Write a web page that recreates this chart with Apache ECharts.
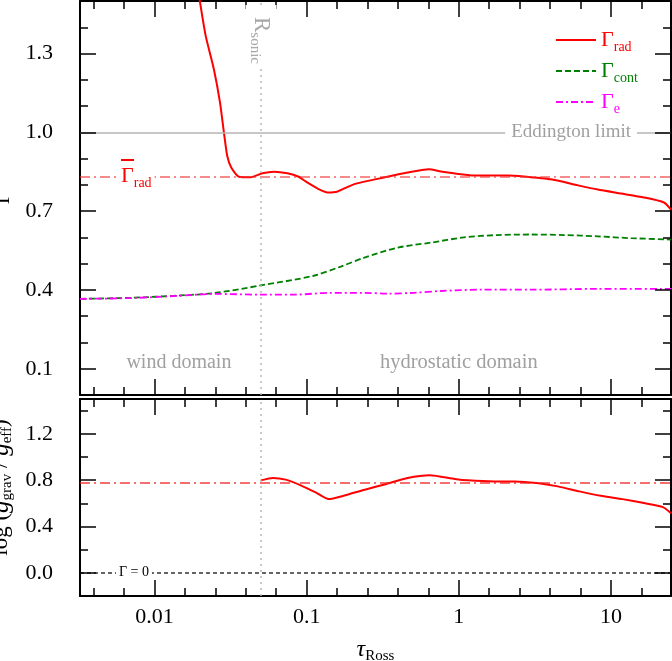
<!DOCTYPE html>
<html>
<head>
<meta charset="utf-8">
<title>Gamma vs tau_Ross</title>
<script src="https://cdn.jsdelivr.net/npm/echarts@6.0.0/dist/echarts.min.js"></script>
<style>
    html, body { margin: 0; padding: 0; background: #fff; }
    #main { width: 672px; height: 661px; }
</style>
</head>
<body>
<div id="main"></div>
<script type="text/javascript">
    // x values are log10(tau_Ross)
    var logTauRad = [-1.705, -1.664, -1.610, -1.570, -1.544, -1.522, -1.495, -1.445, -1.368, -1.291,
        -1.215, -1.127, -1.053, -1.007, -0.928, -0.862, -0.796, -0.691, -0.493, -0.336,
        -0.197, -0.118, -0.033, 0.099, 0.322, 0.428, 0.605, 0.783, 0.914, 1.066,
        1.217, 1.349, 1.395];
    var gammaRad = [1.51, 1.368, 1.240, 1.115, 1.000, 0.910, 0.865, 0.831, 0.829, 0.844,
        0.850, 0.844, 0.831, 0.813, 0.786, 0.771, 0.775, 0.802, 0.828, 0.847,
        0.859, 0.851, 0.844, 0.836, 0.836, 0.832, 0.821, 0.798, 0.782, 0.767,
        0.752, 0.733, 0.706];

    var logTauCont = [-2.49, -2.158, -1.829, -1.61, -1.303, -0.954, -0.776, -0.625, -0.401, -0.184,
        0.033, 0.257, 0.474, 0.691, 0.914, 1.132, 1.395];
    var gammaCont = [0.366, 0.370, 0.379, 0.388, 0.417, 0.454, 0.489, 0.522, 0.561, 0.580,
        0.600, 0.609, 0.611, 0.609, 0.604, 0.597, 0.592];

    var logTauE = [-2.49, -2.158, -1.829, -1.61, -1.303, -1.086, -0.842, -0.625, -0.467, -0.296,
        -0.118, 0.145, 0.474, 0.914, 1.395];
    var gammaE = [0.366, 0.369, 0.378, 0.385, 0.382, 0.382, 0.389, 0.389, 0.386, 0.389,
        0.396, 0.401, 0.401, 0.404, 0.404];

    var logTauG = [-1.301, -1.222, -1.138, -1.039, -0.941, -0.856, -0.757, -0.618, -0.475, -0.336,
        -0.19, -0.026, 0.059, 0.230, 0.368, 0.513, 0.651, 0.793, 0.934, 1.076,
        1.217, 1.342, 1.395];
    var logGravEff = [0.798, 0.819, 0.804, 0.755, 0.694, 0.636, 0.665, 0.717, 0.767, 0.819,
        0.842, 0.810, 0.798, 0.789, 0.789, 0.775, 0.746, 0.703, 0.665, 0.636,
        0.602, 0.567, 0.515];

    var eddingtonLimit = 1.0;
    var gammaRadMean = 0.83;
    var logGMean = 0.78;
    var logTauSonic = -1.30;

    // tick positions
    var decadeTicks = [-2, -1, 0, 1];
    var tauMinorTicks = [-2.4, -2.2, -1.8, -1.6, -1.4, -1.2, -0.8, -0.6, -0.4, -0.2,
        0.2, 0.4, 0.6, 0.8, 1.2];
    var gammaTicks = [0.1, 0.4, 0.7, 1.0, 1.3];
    var gammaMinorTicks = [0.2, 0.3, 0.5, 0.6, 0.8, 0.9, 1.1, 1.2, 1.4];
    var logGTicks = [0.0, 0.4, 0.8, 1.2];
    var logGMinorTicks = [0.2, 0.6, 1.0, 1.4];

    var serif = 'Liberation Serif';
    var tauMin = -2.49, tauMax = 1.395;
    var black = { color: '#000', width: 1.5 };

    var plotLeft = 80, plotRight = 671;
    var panels = [
        { top: 1, height: 394, min: 0, max: 1.5, step: 0.1, ticks: gammaTicks, minor: gammaMinorTicks },
        { top: 399, height: 197, min: -0.2, max: 1.5, step: 0.2, ticks: logGTicks, minor: logGMinorTicks }
    ];

    function zip(xs, ys) {
        return xs.map(function (x, i) { return [x, ys[i]]; });
    }

    function frameX(gi, pos, withLabels) {
        var ax = {
            type: 'value', gridIndex: gi, position: pos,
            min: tauMin, max: tauMax,
            splitNumber: 4, minInterval: 1, maxInterval: 1,
            axisLine: { show: true, onZero: false, lineStyle: { color: '#000', width: 2 } },
            axisTick: { show: false },
            splitLine: { show: false },
            axisLabel: {
                show: withLabels, showMinLabel: false, showMaxLabel: false,
                margin: 10, fontFamily: serif, fontSize: 22, color: '#000',
                formatter: function (v) { return String(+Math.pow(10, v).toPrecision(1)); }
            }
        };
        if (withLabels) {
            ax.name = '{t|τ}{s|Ross}';
            ax.nameLocation = 'middle';
            ax.nameGap = 39;
            ax.nameTextStyle = {
                fontFamily: serif, color: '#000',
                rich: {
                    t: { fontFamily: serif, fontSize: 24, fontStyle: 'italic', color: '#000' },
                    s: { fontFamily: serif, fontSize: 15, color: '#000', padding: [14, 0, 0, 0] }
                }
            };
        }
        return ax;
    }

    function frameY(gi, p, pos, withLabels) {
        return {
            type: 'value', gridIndex: gi, position: pos, min: p.min, max: p.max, interval: p.step,
            axisLine: { show: true, onZero: false, lineStyle: { color: '#000', width: 2 } },
            axisTick: { show: false },
            splitLine: { show: false },
            axisLabel: {
                show: withLabels, customValues: p.ticks, margin: 27,
                fontFamily: serif, fontSize: 22, color: '#000',
                formatter: function (v) { return v.toFixed(1); }
            }
        };
    }

    var grids = [], xAxes = [], yAxes = [];
    panels.forEach(function (p, gi) {
        grids.push({ left: plotLeft, right: 672 - plotRight, top: p.top, height: p.height, outerBoundsMode: 'none' });
        xAxes.push(frameX(gi, 'bottom', gi === 1), frameX(gi, 'top', false));
        yAxes.push(frameY(gi, p, 'left', true), frameY(gi, p, 'right', false));
    });

    yAxes[0].name = 'Γ';
    yAxes[0].nameLocation = 'middle';
    yAxes[0].nameGap = 58;
    yAxes[0].nameTextStyle = { fontFamily: serif, fontSize: 22, color: '#000' };

    yAxes[2].name = 'log ({i|g}{s|grav} / {i|g}{s|eff})';
    yAxes[2].nameLocation = 'middle';
    yAxes[2].nameGap = 51;
    yAxes[2].nameTextStyle = {
        fontFamily: serif, fontSize: 23, color: '#000', padding: [0, 0, 0, 20],
        rich: {
            i: { fontFamily: serif, fontSize: 25, fontStyle: 'italic', color: '#000' },
            s: { fontFamily: serif, fontSize: 15, color: '#000', padding: [12, 0, 0, 0] }
        }
    };

    // inward tick marks as short segments on every edge of a panel
    function tickSegments(p) {
        var segs = [];
        var dy = function (px) { return px / p.height * (p.max - p.min); };
        var dx = function (px) { return px / (plotRight - plotLeft) * (tauMax - tauMin); };
        function xTicks(vals, len) {
            vals.forEach(function (v) {
                segs.push([{ coord: [v, p.max] }, { coord: [v, p.max - dy(len)] }]);
                segs.push([{ coord: [v, p.min] }, { coord: [v, p.min + dy(len)] }]);
            });
        }
        function yTicks(vals, len) {
            vals.forEach(function (v) {
                segs.push([{ coord: [tauMin, v] }, { coord: [tauMin + dx(len), v] }]);
                segs.push([{ coord: [tauMax, v] }, { coord: [tauMax - dx(len), v] }]);
            });
        }
        xTicks(decadeTicks, 16);
        xTicks(tauMinorTicks, 8);
        yTicks(p.ticks, 16);
        yTicks(p.minor, 8);
        return segs;
    }

    function tickSeries(pi) {
        return {
            name: 'ticks' + pi, type: 'line', xAxisIndex: pi * 2, yAxisIndex: pi * 2,
            data: [], z: 6,
            markLine: {
                silent: true, symbol: 'none', animation: false,
                lineStyle: { color: '#000', width: 1.5, type: 'solid' },
                label: { show: false },
                emphasis: { disabled: true },
                data: tickSegments(panels[pi])
            }
        };
    }

    var subRich = {
        g: { fontFamily: serif, fontSize: 22 },
        s: { fontFamily: serif, fontSize: 14, padding: [14, 0, 0, 0] }
    };

    var sonicLine = {
        xAxis: logTauSonic,
        lineStyle: { color: '#b8b8b8', width: 1.5, type: [2, 4] },
        label: { show: false }
    };

    var chart = echarts.init(document.getElementById('main'));
    chart.setOption({
        animation: false,
        backgroundColor: '#fff',
        grid: grids,
        xAxis: xAxes,
        yAxis: yAxes,
        legend: {
            orient: 'vertical', left: 550, top: 24,
            itemWidth: 40, itemHeight: 14, itemGap: 6,
            selectedMode: false,
            itemStyle: { opacity: 0 },
            formatter: function (name) { return '{g|Γ}{s|' + name + '}'; },
            textStyle: { fontFamily: serif, rich: subRich },
            data: [
                { name: 'rad', textStyle: { color: '#ff0000' } },
                { name: 'cont', textStyle: { color: '#008000' } },
                { name: 'e', textStyle: { color: '#ff00ff' } }
            ]
        },
        series: [{
            name: 'rad', type: 'line', xAxisIndex: 0, yAxisIndex: 0,
            symbol: 'none', smooth: 0.2, z: 4,
            lineStyle: { color: '#ff0000', width: 2 },
            itemStyle: { color: '#ff0000' },
            data: zip(logTauRad, gammaRad),
            markLine: {
                silent: true, symbol: 'none',
                data: [{
                    yAxis: eddingtonLimit,
                    lineStyle: { color: '#b4b4b4', width: 1.5, type: 'solid' },
                    label: {
                        show: true, position: 'insideEnd', distance: 34,
                        formatter: 'Eddington limit', color: '#a0a0a0',
                        fontFamily: serif, fontSize: 19,
                        backgroundColor: '#fff', padding: [0, 6]
                    }
                }, {
                    yAxis: gammaRadMean,
                    lineStyle: { color: 'rgba(240,50,50,0.75)', width: 1.5, type: [10, 4, 2, 4] },
                    label: {
                        show: true, position: 'insideStart', distance: 38,
                        formatter: '{bar|}\n{g|Γ}{s|rad}', color: '#ff0000',
                        backgroundColor: '#fff', padding: [0, 3, 6, 3],
                        rich: {
                            bar: { width: 13, height: 2, lineHeight: 4, backgroundColor: '#ff0000' },
                            g: subRich.g,
                            s: subRich.s
                        }
                    }
                }, sonicLine]
            }
        }, {
            name: 'cont', type: 'line', xAxisIndex: 0, yAxisIndex: 0,
            symbol: 'none', smooth: 0.3, z: 3,
            lineStyle: { color: '#008000', width: 1.8, type: [6, 3] },
            itemStyle: { color: '#008000' },
            data: zip(logTauCont, gammaCont)
        }, {
            name: 'e', type: 'line', xAxisIndex: 0, yAxisIndex: 0,
            symbol: 'none', smooth: 0.3, z: 3,
            lineStyle: { color: '#ff00ff', width: 1.8, type: [7, 3, 2, 3] },
            itemStyle: { color: '#ff00ff' },
            data: zip(logTauE, gammaE)
        }, {
            name: 'logg', type: 'line', xAxisIndex: 2, yAxisIndex: 2,
            symbol: 'none', smooth: 0.2, z: 4,
            lineStyle: { color: '#ff0000', width: 2 },
            itemStyle: { color: '#ff0000' },
            data: zip(logTauG, logGravEff),
            markLine: {
                silent: true, symbol: 'none',
                data: [{
                    yAxis: logGMean,
                    lineStyle: { color: 'rgba(240,30,30,0.85)', width: 1.5, type: [10, 4, 2, 4] },
                    label: { show: false }
                }, {
                    yAxis: 0,
                    lineStyle: { color: '#333', width: 1.5, type: [4, 3] },
                    label: {
                        show: true, position: 'insideStart', distance: 36,
                        formatter: 'Γ = 0', color: '#000',
                        fontFamily: serif, fontSize: 14,
                        backgroundColor: '#fff', padding: [0, 3]
                    }
                }, sonicLine]
            }
        }, tickSeries(0), tickSeries(1), {
            name: 'notes', type: 'line', xAxisIndex: 0, yAxisIndex: 0,
            data: [], z: 10,
            markPoint: {
                silent: true, symbol: 'circle', symbolSize: 1, z: 10,
                itemStyle: { color: 'rgba(0,0,0,0)' },
                label: {
                    show: true, position: 'inside', formatter: '{b}',
                    color: '#a0a0a0', fontFamily: serif, fontSize: 20
                },
                data: [
                    { name: 'wind domain', coord: [-1.84, 0.122] },
                    { name: 'hydrostatic domain', coord: [0.0, 0.122], label: { fontSize: 20.5 } },
                    {
                        name: 'R sonic', coord: [logTauSonic, 1.365],
                        label: {
                            rotate: -90, formatter: '{r|R}{s|sonic}',
                            backgroundColor: '#fff', padding: [2, 4, 2, 12],
                            rich: {
                                r: { fontFamily: serif, fontSize: 23, color: '#a8a8a8' },
                                s: { fontFamily: serif, fontSize: 15, color: '#a8a8a8', padding: [12, 0, 0, 0] }
                            }
                        }
                    }
                ]
            }
        }]
    });
</script>
</body>
</html>
